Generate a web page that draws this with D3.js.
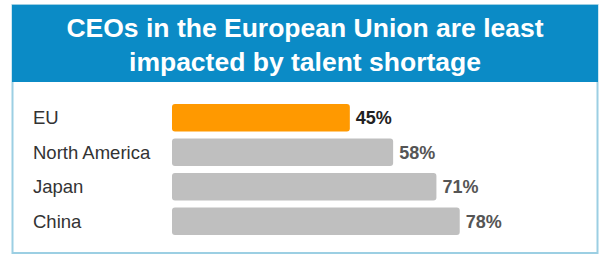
<!DOCTYPE html>
<html>
<head>
<meta charset="utf-8">
<script src="https://cdn.jsdelivr.net/npm/d3@7"></script>
<style>
  body { margin: 0; background: #fff; }
  svg { display: block; font-family: "Liberation Sans", Arial, sans-serif; }
</style>
</head>
<body>
<div id="chart"></div>
<script>
// chart data
var regions = ["EU", "North America", "Japan", "China"];
var shares = [45, 58, 71, 78];
var titleLines = ["CEOs in the European Union are least", "impacted by talent shortage"];

var width = 600, height = 256;

var svg = d3.select("#chart")
	.append("svg")
	.attr("width", width)
	.attr("height", height);

// panel with light blue border
svg.append("rect")
	.attr("x", 12.5)
	.attr("y", 5)
	.attr("width", 585)
	.attr("height", 248)
	.attr("fill", "#fff")
	.attr("stroke", "#9ccfe3")
	.attr("stroke-width", 2);

// title band
svg.append("rect")
	.attr("x", 12)
	.attr("y", 5)
	.attr("width", 586)
	.attr("height", 77)
	.attr("fill", "#0b8bc6");

svg.selectAll(".title")
	.data(titleLines)
	.enter()
	.append("text")
	.attr("class", "title")
	.attr("x", 305)
	.attr("y", function(d, i) { return 37 + i * 34; })
	.attr("text-anchor", "middle")
	.attr("fill", "#fff")
	.attr("font-size", 26.5)
	.attr("font-weight", "bold")
	.text(function(d) { return d; });

// scales
var y = d3.scaleBand()
	.domain(regions)
	.range([100.5, 238.5])
	.paddingInner(0.2)
	.paddingOuter(0.1);

var x = d3.scaleLinear()
	.domain([-8.4, 100])
	.range([172, 533]);

var rows = regions.map(function(r, i) { return { region: r, value: shares[i] }; });

// bars
svg.selectAll(".bar")
	.data(rows)
	.enter()
	.append("rect")
	.attr("class", "bar")
	.attr("x", x(-8.4))
	.attr("y", function(d) { return y(d.region); })
	.attr("width", function(d) { return x(d.value) - x(-8.4); })
	.attr("height", y.bandwidth())
	.attr("rx", 3)
	.attr("ry", 3)
	.attr("fill", function(d, i) { return i == 0 ? "#ff9900" : "#bfbfbf"; });

// category labels
svg.selectAll(".cat")
	.data(rows)
	.enter()
	.append("text")
	.attr("class", "cat")
	.attr("x", 33)
	.attr("y", function(d) { return y(d.region) + y.bandwidth() / 2; })
	.attr("dy", ".35em")
	.attr("font-size", 18.5)
	.attr("fill", "#333")
	.text(function(d) { return d.region; });

// value labels
svg.selectAll(".val")
	.data(rows)
	.enter()
	.append("text")
	.attr("class", "val")
	.attr("x", function(d) { return x(d.value) + 6; })
	.attr("y", function(d) { return y(d.region) + y.bandwidth() / 2; })
	.attr("dy", ".35em")
	.attr("font-size", 18)
	.attr("font-weight", "bold")
	.attr("fill", function(d, i) { return i == 0 ? "#222" : "#555"; })
	.text(function(d) { return d.value + "%"; });
</script>
</body>
</html>
